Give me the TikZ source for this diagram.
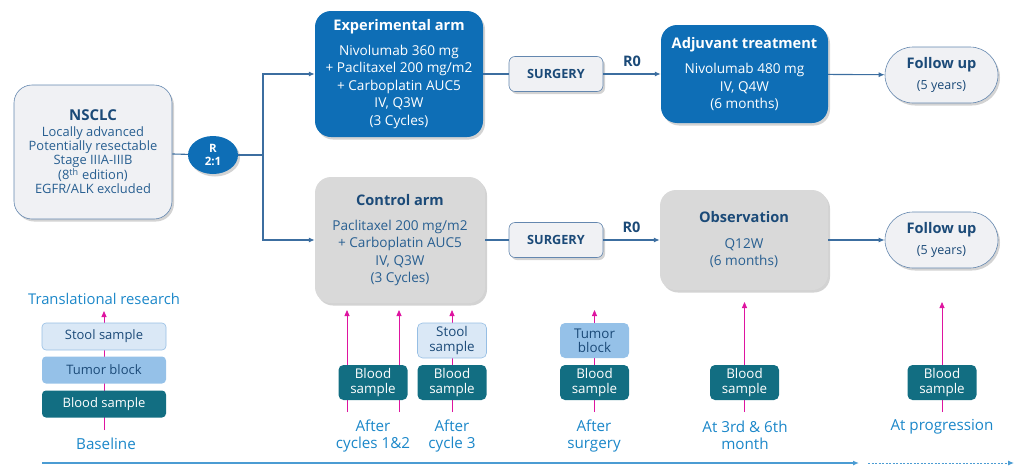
\documentclass[tikz,border=0pt]{standalone}
\usepackage{fontspec}
\setmainfont{Open Sans}
\usetikzlibrary{shadows,arrows.meta,shapes.geometric}
\pgfdeclarelayer{background}
\pgfsetlayers{background,main}
\definecolor{expblue}{RGB}{14,110,182}
\definecolor{navy}{RGB}{27,74,120}
\definecolor{bodyblue}{RGB}{40,95,145}
\definecolor{ctrlgray}{RGB}{217,217,217}
\definecolor{lightfill}{RGB}{240,241,244}
\definecolor{edgeblue}{RGB}{100,135,175}
\definecolor{connblue}{RGB}{60,110,160}
\definecolor{mag}{RGB}{222,20,160}
\definecolor{labblue}{RGB}{27,135,201}
\definecolor{tealbox}{RGB}{18,110,130}
\definecolor{stoolfill}{RGB}{218,232,246}
\definecolor{stooledge}{RGB}{150,190,228}
\definecolor{tumorfill}{RGB}{149,193,232}
\definecolor{axisblue}{RGB}{75,156,211}
\tikzset{
  shad/.style={drop shadow={opacity=0.35,shadow xshift=2pt,shadow yshift=-2.5pt}},
  bigbox/.style={rounded corners=16pt,shad,align=center,inner sep=0pt,
    font=\fontsize{13.6}{17.5}\selectfont},
  lightbox/.style={rounded corners=18pt,shad,align=center,inner sep=0pt,
    fill=lightfill,draw=edgeblue,line width=0.6pt,text=bodyblue,
    font=\fontsize{12.9}{14.2}\selectfont},
  surg/.style={rounded corners=6pt,shad,fill=lightfill,draw=edgeblue,line width=0.6pt,
    minimum width=94,minimum height=35,inner sep=0pt,text=navy,
    font=\bfseries\fontsize{12.7}{14}\selectfont},
  fu/.style={rounded corners=28pt,shad,fill=lightfill,draw=edgeblue,line width=0.6pt,
    minimum width=113,minimum height=56,inner sep=0pt,align=center,text=navy},
  rnode/.style={ellipse,fill=expblue,text=white,minimum width=50,minimum height=38,
    inner sep=0pt,shad,align=center,font=\bfseries\fontsize{11.5}{13.5}\selectfont},
  conn/.style={draw=connblue,line width=1.1pt},
  carrow/.style={conn,-{Latex[length=6pt,width=5pt]}},
  marrow/.style={draw=mag,line width=0.8pt,-{Triangle[length=6pt,width=5pt]}},
  lab/.style={text=labblue,align=center,font=\fontsize{15.2}{16.5}\selectfont},
  rlab/.style={above=3pt,text=navy,font=\bfseries\fontsize{14.5}{14}\selectfont},
  wideb/.style={minimum width=124,minimum height=27,rounded corners=4pt,inner sep=0pt,
    font=\fontsize{13}{14}\selectfont},
  smallb/.style={minimum width=69,minimum height=35,rounded corners=5pt,inner sep=0pt,
    align=center,font=\fontsize{13.4}{14.2}\selectfont},
  bloodc/.style={fill=tealbox,text=white},
  stoolc/.style={fill=stoolfill,draw=stooledge,line width=0.6pt,text=navy},
  tumorc/.style={fill=tumorfill,text=navy},
}
\begin{document}
\begin{tikzpicture}[x=1pt,y=-1pt]
\useasboundingbox (0,0) rectangle (1015,466);

% top row
\node[lightbox,minimum width=158,minimum height=134] (nsclc) at (93,152)
  {{\bfseries\fontsize{15}{15}\selectfont\color{navy}NSCLC}\\[1pt]
   Locally advanced\\Potentially resectable\\Stage IIIA-IIIB\\(8\textsuperscript{th} edition)\\EGFR/ALK excluded};
\node[rnode] (r) at (213,155) {R\\2:1};
\coordinate (split) at (263,155);

\node[bigbox,fill=expblue,text=white,minimum width=168,minimum height=126] (exp) at (399,74)
  {{\bfseries\fontsize{14.6}{17.5}\selectfont Experimental arm}\\[7.5pt]
   Nivolumab 360 mg\\+ Paclitaxel 200 mg/m2\\+ Carboplatin AUC5\\IV, Q3W\\(3 Cycles)};
\node[surg] (s1) at (556,74) {SURGERY};
\node[bigbox,fill=expblue,text=white,minimum width=167,minimum height=98] (adj) at (744.5,74)
  {{\bfseries\fontsize{14.6}{17.5}\selectfont Adjuvant treatment}\\[8pt]
   Nivolumab 480 mg\\IV, Q4W\\(6 months)};
\node[fu] (f1) at (941.5,75)
  {{\bfseries\fontsize{14.6}{17}\selectfont Follow up}\\[7pt]{\fontsize{12.5}{14}\selectfont (5 years)}};

% bottom row
\node[bigbox,fill=ctrlgray,text=bodyblue,minimum width=170,minimum height=126] (ctrl) at (400,240)
  {{\bfseries\fontsize{14.6}{17.5}\selectfont\color{navy}Control arm}\\[7.5pt]
   Paclitaxel 200 mg/m2\\+ Carboplatin AUC5\\IV, Q3W\\(3 Cycles)};
\node[surg] (s2) at (556,240) {SURGERY};
\node[bigbox,fill=ctrlgray,text=bodyblue,minimum width=168,minimum height=100] (obs) at (744,240)
  {{\bfseries\fontsize{14.6}{17.5}\selectfont\color{navy}Observation}\\[8pt]
   Q12W\\(6 months)};
\node[fu] (f2) at (941.5,240)
  {{\bfseries\fontsize{14.6}{17}\selectfont Follow up}\\[7pt]{\fontsize{12.5}{14}\selectfont (5 years)}};

% connectors
\draw[conn] (nsclc) -- (r);
\draw[conn] (r) -- (split);
\draw[carrow] (split) |- (exp.west);
\draw[carrow] (split) |- (ctrl.west);
\draw[conn] (exp) -- (s1);
\draw[carrow] (s1) -- node[rlab]{R0} (adj);
\draw[carrow] (adj) -- (f1);
\draw[conn] (ctrl) -- (s2);
\draw[carrow] (s2) -- node[rlab]{R0} (obs);
\draw[carrow] (obs) -- (f2);

% translational research (baseline)
\node[lab,font=\fontsize{14.8}{16}\selectfont] (tr) at (104,299) {Translational research};
\node[wideb,stoolc] (bst) at (104,336.5) {Stool sample};
\node[wideb,tumorc] (btu) at (104,370) {Tumor block};
\node[wideb,bloodc] (bbl) at (104,404) {Blood sample};
\node[lab] (bl) at (106,444) {Baseline};

% sampling time points
\node[smallb,bloodc] (c12) at (373,382.5) {Blood\\sample};
\node[smallb,stoolc] (st3) at (452,340.5) {Stool\\sample};
\node[smallb,bloodc] (c3) at (452,382.5) {Blood\\sample};
\node[smallb,tumorc] (tu) at (594.5,340.5) {Tumor\\block};
\node[smallb,bloodc] (sb) at (594.5,382.5) {Blood\\sample};
\node[smallb,bloodc] (m36) at (744.5,382.5) {Blood\\sample};
\node[smallb,bloodc] (pg) at (942,382.5) {Blood\\sample};

\node[lab] (l12) at (373,436) {After\\cycles 1\&2};
\node[lab] (l3) at (452,436) {After\\cycle 3};
\node[lab] (ls) at (594,436) {After\\surgery};
\node[lab] (lm) at (745,435.5) {At 3rd \& 6th\\month};
\node[lab] (lp) at (942,427) {At progression};

% magenta arrows (behind the sample boxes)
\coordinate (mb0) at (104,430);  \coordinate (mt0) at (104,311);
\coordinate (mb1) at (347,412);  \coordinate (mt1) at (347,310);
\coordinate (mb2) at (399,412);  \coordinate (mt2) at (399,310);
\coordinate (mb3) at (452,412);  \coordinate (mt3) at (452,310);
\coordinate (mb4) at (594.5,412);\coordinate (mt4) at (594.5,310);
\coordinate (mb5) at (744.5,412);\coordinate (mt5) at (744.5,302);
\coordinate (mb6) at (942,412);  \coordinate (mt6) at (942,302);
\begin{pgfonlayer}{background}
\foreach \i in {0,...,6} {\draw[marrow] (mb\i) -- (mt\i);}
\end{pgfonlayer}

% time axis
\coordinate (ax0) at (42,463);
\coordinate (ax1) at (859,463);
\coordinate (ax2) at (868,463);
\coordinate (ax3) at (1014,463);
\draw[draw=axisblue,line width=1.3pt,-{Latex[length=6pt,width=5pt]}] (ax0) -- (ax1);
\draw[draw=axisblue,line width=1pt,dash pattern=on 2pt off 1.5pt,-{Latex[length=6pt,width=5pt]}] (ax2) -- (ax3);
\end{tikzpicture}
\end{document}
